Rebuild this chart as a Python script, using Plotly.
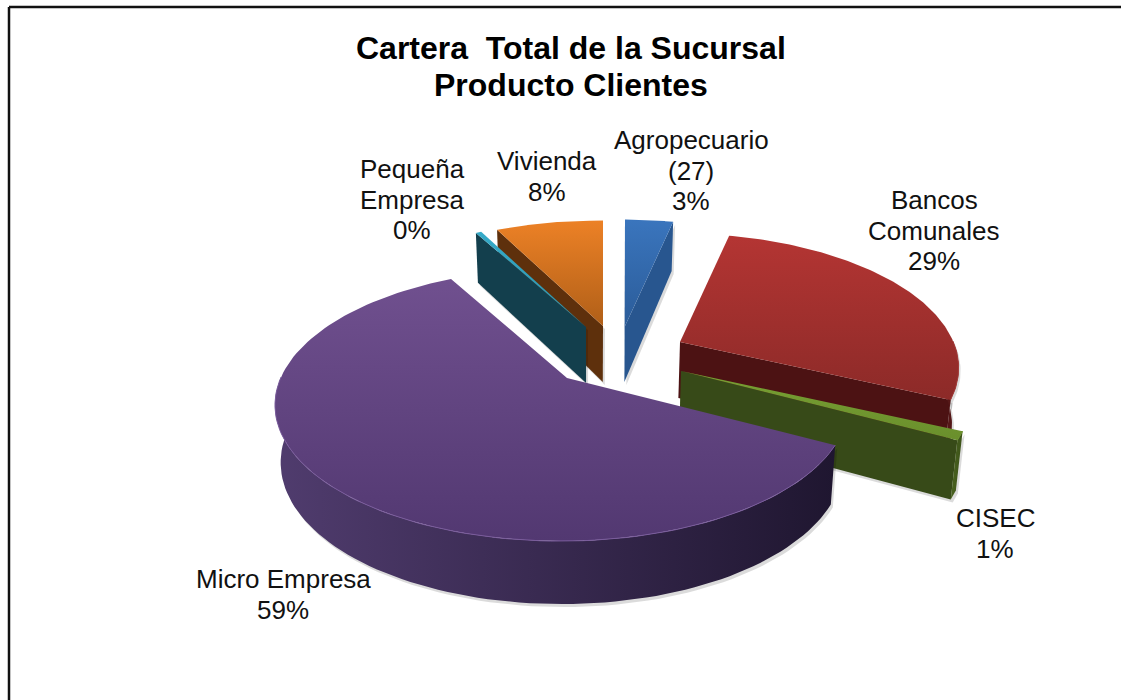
import numpy as np
import plotly.graph_objects as go

# shares, clockwise from Agropecuario
categories = ["Agropecuario", "Bancos Comunales", "CISEC", "Micro Empresa", "Pequeña Empresa", "Vivienda"]
shares = [3.4, 28.6, 1.0, 59.5, 0.4, 7.6]
title_lines = ["Cartera  Total de la Sucursal", "Producto Clientes"]
title_y = [48, 85]
label_lines = [
    ["Agropecuario", "(27)", "3%"],
    ["Bancos", "Comunales", "29%"],
    ["CISEC", "1%"],
    ["Micro Empresa", "59%"],
    ["Pequeña", "Empresa", "0%"],
    ["Vivienda", "8%"],
]
label_x = [691, 934, 995, 283, 412, 547]
label_y = [140, 200, 518, 579, 169, 161]

# apex of each exploded slice on screen and its size
apex_x = [625, 680, 681, 567, 586, 603]
apex_y = [326, 342, 371, 378, 327, 326]
slice_scale = [0.96, 0.98, 1.02, 0.99, 0.94, 0.95]

top_colors = [
    ("#2b5c99", "#3a75bd"),
    ("#8c2a28", "#b43533"),
    ("#6a8f2c", "#78a033"),
    ("#523871", "#70508f"),
    ("#2d93ad", "#35aac8"),
    ("#b05f18", "#ec8126"),
]
wall_colors = ["#28568f", "#4c1213", "#374a18", "#4d3a66", "#133f4d", "#5e300c"]
rim_colors = [
    ("#28568f", "#28568f"),
    ("#5a1a1a", "#4c1213"),
    ("#4a6320", "#3c5219"),
    ("#503c6e", "#1f1630"),
    ("#133f4d", "#133f4d"),
    ("#5e300c", "#5e300c"),
]
edge_colors = ["#3a75bd", "#a33a38", "#6a8f2c", "#7a5c9c", "#35aac8", "#ec8126"]
draw_order = [1, 2, 0, 5, 4, 3]

first_angle = 270.0
A, B, P, R = 284.0, 132.6, 0.195, -0.018


def rim_xy(theta, scale):
    t = np.radians(theta)
    xx, yy = np.cos(t), np.sin(t)
    s = scale / (1 - P * yy - R * xx)
    return A * xx * s, B * yy * s


def drop(x, y, depth):
    # lower edge of a wall, narrowing slightly toward the middle of the picture
    return x + (590 - x) * 0.018, y + depth


def depth_at(yy):
    return 56 + 7 * yy


def add_poly(fig, xs, ys, colors, kind="vertical"):
    fig.add_trace(
        go.Scatter(
            x=list(xs) + [xs[0]],
            y=list(ys) + [ys[0]],
            mode="lines",
            line=dict(width=0),
            fill="toself",
            fillgradient=dict(type=kind, colorscale=[[0, colors[0]], [1, colors[1]]]),
            hoverinfo="skip",
            showlegend=False,
        )
    )


def add_flat(fig, xs, ys, color):
    fig.add_trace(
        go.Scatter(
            x=list(xs) + [xs[0]],
            y=list(ys) + [ys[0]],
            mode="lines",
            line=dict(width=0),
            fill="toself",
            fillcolor=color,
            hoverinfo="skip",
            showlegend=False,
        )
    )


fig = go.Figure()

fractions = np.array(shares) / sum(shares)
starts = first_angle + 360 * np.concatenate([[0], np.cumsum(fractions)[:-1]])
ends = starts + 360 * fractions

for i in draw_order:
    ax, ay, scale = apex_x[i], apex_y[i], slice_scale[i]
    th = np.linspace(starts[i], ends[i], 120)
    ux, uy = rim_xy(th, scale)
    rx, ry = ax + ux, ay + uy
    sin_t = np.sin(np.radians(th))
    d_rim = depth_at(sin_t)
    bx, by = drop(rx, ry, d_rim)
    apex_bx, apex_by = drop(ax, ay, 56)

    walls = []
    if np.cos(np.radians(starts[i])) < 0:
        walls.append(([ax, rx[0], bx[0], apex_bx], [ay, ry[0], by[0], apex_by], wall_colors[i]))
    if np.cos(np.radians(ends[i])) > 0:
        walls.append(([ax, rx[-1], bx[-1], apex_bx], [ay, ry[-1], by[-1], apex_by], wall_colors[i]))
    for xs, ys, col in walls:
        add_flat(fig, [v + 2 for v in xs], [v + 3 for v in ys], "rgba(0,0,0,0.14)")
    for xs, ys, col in walls:
        add_flat(fig, xs, ys, col)

    front = sin_t > -0.02
    if front.any():
        xs = np.concatenate([rx[front], bx[front][::-1]])
        ys = np.concatenate([ry[front], by[front][::-1]])
        add_flat(fig, xs + 2, ys + 3, "rgba(0,0,0,0.14)")
        add_poly(fig, xs, ys, rim_colors[i], "horizontal")

    add_poly(fig, np.concatenate([[ax], rx]), np.concatenate([[ay], ry]), top_colors[i], "vertical")

    if front.any():
        fig.add_trace(
            go.Scatter(
                x=rx[front],
                y=ry[front],
                mode="lines",
                line=dict(width=1, color=edge_colors[i]),
                hoverinfo="skip",
                showlegend=False,
            )
        )

annotations = []
for text, y in zip(title_lines, title_y):
    annotations.append(
        dict(
            x=571, y=y, text="<b>" + text + "</b>", showarrow=False,
            font=dict(family="Liberation Sans", size=32, color="#000000"),
        )
    )
for lines, x, y in zip(label_lines, label_x, label_y):
    for n, text in enumerate(lines):
        annotations.append(
            dict(
                x=x, y=y + n * 30.5, text=text, showarrow=False,
                font=dict(family="Liberation Sans", size=26, color="#111111"),
            )
        )

fig.update_layout(
    width=1121,
    height=700,
    margin=dict(l=0, r=0, t=0, b=0),
    paper_bgcolor="#ffffff",
    plot_bgcolor="#ffffff",
    showlegend=False,
    xaxis=dict(range=[0, 1121], visible=False, fixedrange=True),
    yaxis=dict(range=[700, 0], visible=False, fixedrange=True),
    annotations=annotations,
    shapes=[
        dict(type="line", x0=9, x1=1121, y0=7, y1=7, line=dict(color="#111111", width=2.5)),
        dict(type="line", x0=9, x1=9, y0=7, y1=700, line=dict(color="#111111", width=2.5)),
    ],
)

fig.write_html("out.html", config=dict(displayModeBar=False), post_script="document.body.style.margin='0'")
